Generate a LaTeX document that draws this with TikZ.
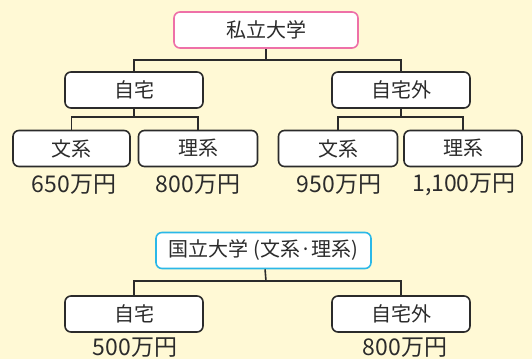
\documentclass[tikz,border=0pt]{standalone}
\usepackage{fontspec}
\setmainfont{Noto Sans CJK JP}

\definecolor{cream}{RGB}{255, 249, 213}
\definecolor{pink}{RGB}{238, 112, 168}
\definecolor{cyan}{RGB}{43, 184, 232}
\definecolor{ink}{RGB}{43, 43, 43}

\tikzstyle{choice box}=[draw=#1, line width=1.6pt, rounded corners=6pt, fill=white, minimum height=36pt, text=ink, font=\fontsize{20}{20}\selectfont, inner sep=0pt]
\tikzstyle{cost}=[text=ink, font=\fontsize{23}{23}\selectfont, inner sep=0pt]
\tikzstyle{branch}=[draw=ink, line width=1.6pt]

\begin{document}
\begin{tikzpicture}[x=1pt, y=-1pt]
		\fill [cream] (0,0) rectangle (532,359);
		\useasboundingbox (0,0) rectangle (532,359);

		% private university
		\node [choice box = pink, minimum width=184pt] (shiritsu) at (266,30) {私立大学};
		\node [choice box = ink, minimum width=138pt] (jitaku) at (134,90) {自宅};
		\node [choice box = ink, minimum width=138pt] (jitakugai) at (401,90) {自宅外};
		\node [choice box = ink, minimum width=117pt] (bun1) at (71.5,148.5) {文系};
		\node [choice box = ink, minimum width=119pt] (ri1) at (198,148.5) {理系};
		\node [choice box = ink, minimum width=119pt] (bun2) at (338,148.5) {文系};
		\node [choice box = ink, minimum width=118pt] (ri2) at (463,148.5) {理系};

		\node [cost] (c1) at (74,185) {650万円};
		\node [cost] (c2) at (198,185) {800万円};
		\node [cost] (c3) at (339,185) {950万円};
		\node [cost] (c4) at (464,185) {1,100万円};

		\coordinate (s0) at (266,60);
		\coordinate (s1) at (134,117);
		\coordinate (s2) at (401,117);
		\draw [branch] (shiritsu) -- (s0);
		\draw [branch] (jitaku.north) |- (s0) -| (jitakugai.north);
		\draw [branch] (jitaku) -- (s1);
		\draw [branch] (bun1.north) |- (s1) -| (ri1.north);
		\draw [branch] (jitakugai) -- (s2);
		\draw [branch] (bun2.north) |- (s2) -| (ri2.north);

		% national university
		\node [choice box = cyan, minimum width=215pt] (kokuritsu) at (263.5,250.5) {国立大学 (文系·理系)};
		\node [choice box = ink, minimum width=138pt] (kjitaku) at (134,314) {自宅};
		\node [choice box = ink, minimum width=138pt] (kjitakugai) at (401,314) {自宅外};

		\node [cost] (c5) at (135,348) {500万円};
		\node [cost] (c6) at (405,348) {800万円};

		\coordinate (k0) at (266,281);
		\draw [branch] (kokuritsu) -- (k0);
		\draw [branch] (kjitaku.north) |- (k0) -| (kjitakugai.north);
	\end{tikzpicture}
\end{document}
